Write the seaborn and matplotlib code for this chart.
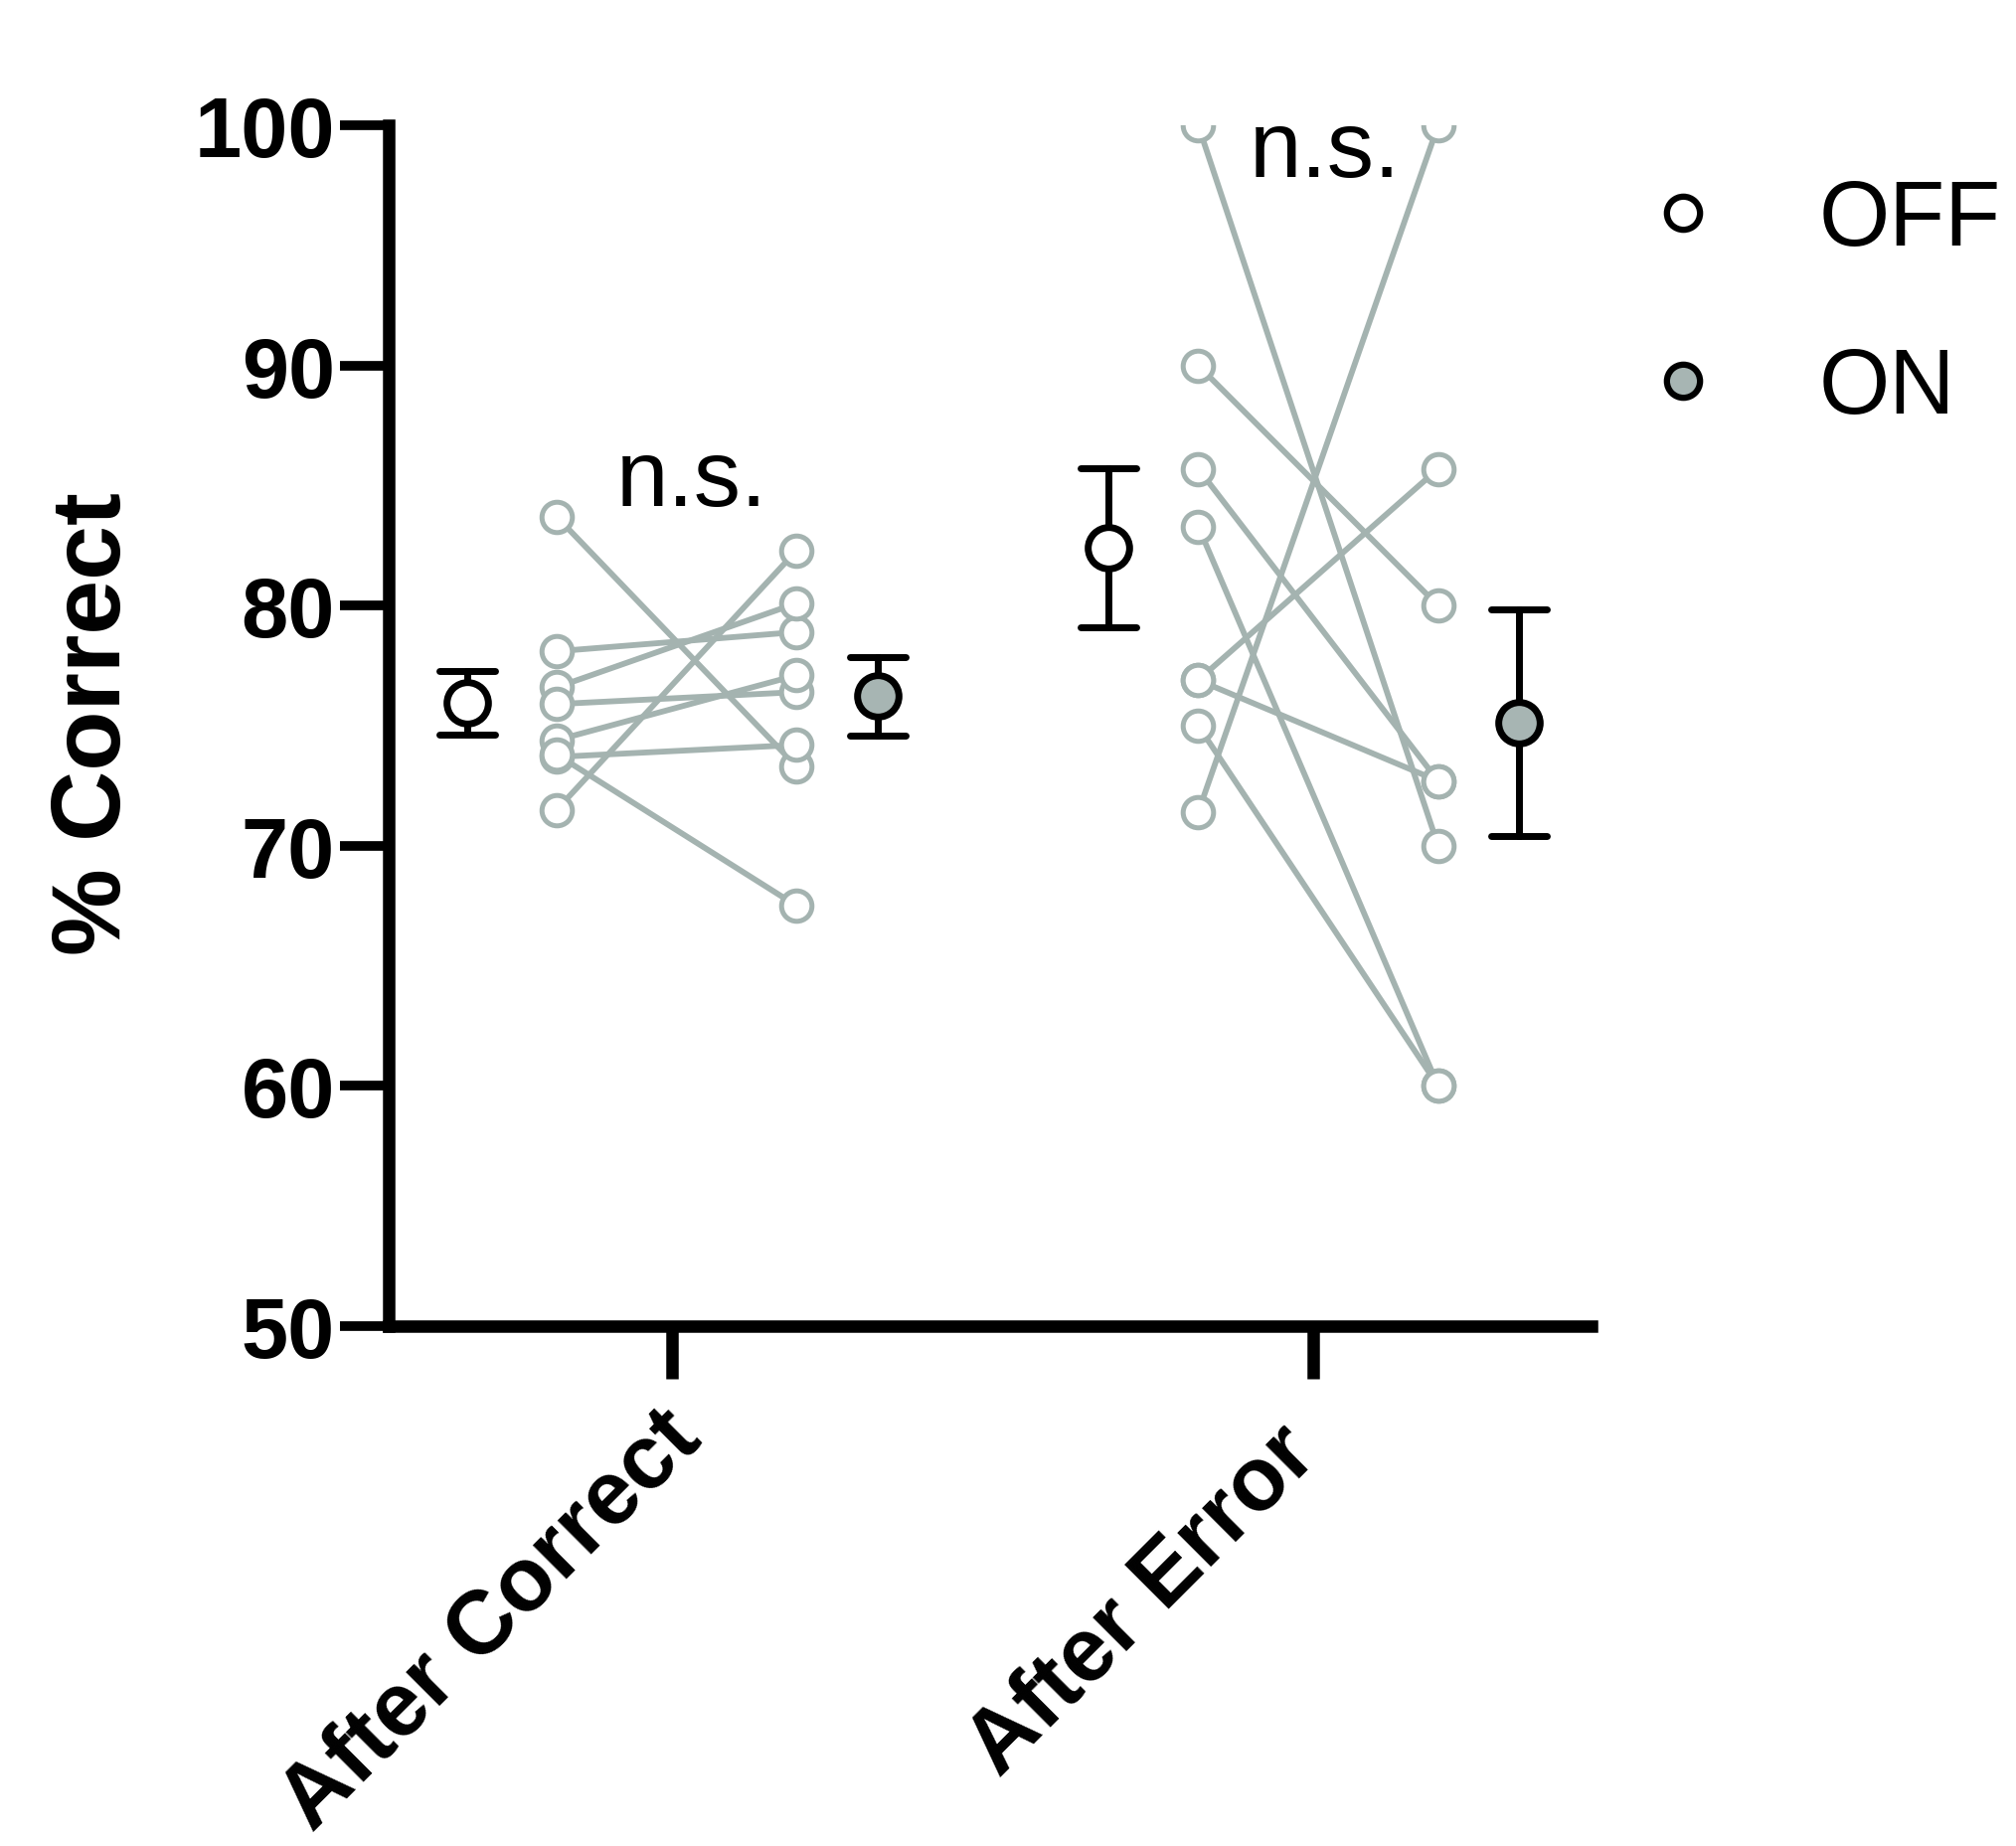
import matplotlib

matplotlib.use("Agg")
import matplotlib.pyplot as plt
import pandas as pd
import seaborn as sns
from matplotlib.lines import Line2D
from matplotlib.transforms import ScaledTranslation

# values, one entry per subject (paired OFF/ON)
conditions = ["After Correct", "After Error"]
states = ["OFF", "ON"]
off_after_correct = [83.7, 78.1, 76.6, 75.9, 74.4, 73.7, 73.8, 71.5]
on_after_correct = [73.3, 78.9, 80.1, 76.4, 77.1, 74.2, 67.5, 82.3]
off_after_error = [100.0, 90.0, 85.7, 83.3, 76.9, 76.9, 75.0, 71.4]
on_after_error = [70.0, 80.0, 72.7, 60.0, 72.7, 85.7, 60.0, 100.0]
y_ticks = [50, 60, 70, 80, 90, 100]

GREY = "#a4b3b0"
ON_FILL = "#a7b5b3"

paired = {
    "After Correct": (off_after_correct, on_after_correct),
    "After Error": (off_after_error, on_after_error),
}

rows = []
for cond, (off_vals, on_vals) in paired.items():
    for subj, (a, b) in enumerate(zip(off_vals, on_vals)):
        rows.append({"cond": cond, "state": "OFF", "subject": subj, "pct": a})
        rows.append({"cond": cond, "state": "ON", "subject": subj, "pct": b})
df = pd.DataFrame(rows)

sns.set_style("ticks")
plt.rcParams["font.family"] = ["Liberation Sans", "DejaVu Sans"]
plt.rcParams.update({"text.color": "black", "axes.labelcolor": "black",
                     "xtick.color": "black", "ytick.color": "black"})

fig = plt.figure(figsize=(20.28, 18.58), dpi=100)
ax = fig.add_axes([0.1928, 0.2815, 0.5966, 0.6501])

# group means with SEM
sns.pointplot(
    data=df, x="cond", y="pct", hue="state", order=conditions, hue_order=states,
    dodge=0.64, errorbar="se", linestyle="none", markers="o", capsize=0.087,
    palette={"OFF": "black", "ON": "black"}, markersize=30, markeredgewidth=5,
    err_kws={"linewidth": 5}, legend=False, ax=ax,
)
marker_lines = [ln for ln in ax.lines if ln.get_marker() == "o"]
for ln, face in zip(marker_lines, ["white", ON_FILL]):
    ln.set_markerfacecolor(face)
    ln.set_zorder(6)
for ln in ax.lines:
    if ln not in marker_lines:
        ln.set_zorder(5)

# individual subjects, OFF slightly left and ON slightly right of each category
pair_offset = {"OFF": -0.18, "ON": 0.194}
for i, cond in enumerate(conditions):
    off_vals, on_vals = paired[cond]
    xs = [i + pair_offset["OFF"], i + pair_offset["ON"]]
    for a, b in zip(off_vals, on_vals):
        ax.plot(xs, [a, b], color=GREY, lw=4.2, zorder=3)
    for state, vals in zip(states, (off_vals, on_vals)):
        ax.plot([i + pair_offset[state]] * len(vals), vals, linestyle="none",
                marker="o", markersize=22, markeredgewidth=3.6,
                markerfacecolor="white", markeredgecolor=GREY, zorder=4)

ax.text(0.03, 84.2, "n.s.", ha="center", va="baseline", fontsize=68)
ax.text(1.017, 97.9, "n.s.", ha="center", va="baseline", fontsize=68)

ax.set_xlim(-0.442, 1.433)
ax.set_ylim(50, 100)
ax.set_yticks(y_ticks)
ax.set_xticks(range(len(conditions)))

ax.set_xlabel("")
ax.set_ylabel("% Correct", fontsize=71, fontweight="bold")
ax.yaxis.set_label_coords(-0.207, 0.5025)

sns.despine(ax=ax)
for side in ["left", "bottom"]:
    ax.spines[side].set_linewidth(9)
    ax.spines[side].set_color("black")
ax.tick_params(axis="y", length=35, width=7, pad=4)
ax.tick_params(axis="x", length=38, width=9, pad=52)

ax.set_xticklabels(conditions, rotation=45, ha="right", va="baseline",
                   rotation_mode="anchor", fontsize=65, fontweight="bold")
for lab in ax.get_yticklabels():
    lab.set_fontsize(61)
    lab.set_fontweight("bold")
label_shift = {"After Correct": (0.32, 0.1), "After Error": (0.065, -0.065)}
for lab in ax.get_xticklabels():
    dx, dy = label_shift[lab.get_text()]
    lab.set_transform(lab.get_transform() + ScaledTranslation(dx, dy, fig.dpi_scale_trans))

handles = [
    Line2D([], [], linestyle="none", marker="o", markersize=24, markeredgewidth=4.5,
           markerfacecolor="white", markeredgecolor="black"),
    Line2D([], [], linestyle="none", marker="o", markersize=24, markeredgewidth=4.5,
           markerfacecolor=ON_FILL, markeredgecolor="black"),
]
ax.legend(
    handles, states, loc="upper left", bbox_to_anchor=(0.812, 0.903),
    bbox_transform=fig.transFigure, frameon=False, fontsize=66,
    handlelength=1.0, handletextpad=1.0, labelspacing=0.9,
    borderpad=0, borderaxespad=0,
)

fig.savefig("out.png", dpi=100, facecolor="white")
